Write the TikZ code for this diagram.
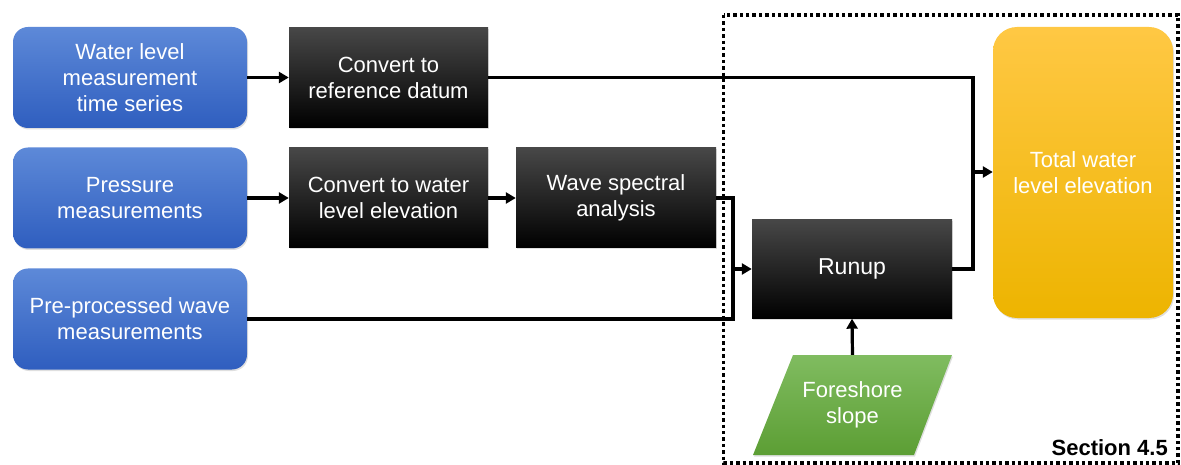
\documentclass[tikz,border=0pt]{standalone}
\usepackage{fontspec}
\setmainfont{Liberation Sans}
\usetikzlibrary{arrows.meta,shadows}
\definecolor{bluetop}{HTML}{5D89D8}
\definecolor{bluebot}{HTML}{2F5EBF}
\definecolor{yeltop}{HTML}{FFC844}
\definecolor{yelbot}{HTML}{EDB400}
\definecolor{grntop}{HTML}{80BC60}
\definecolor{grnbot}{HTML}{5C9E34}
\tikzset{
  boxtext/.style={text=white, align=center, font=\fontsize{22}{26}\selectfont},
  inbox/.style={boxtext, rounded corners=15pt, top color=bluetop, bottom color=bluebot,
    minimum width=234pt, minimum height=101pt, inner sep=0pt,
    drop shadow={opacity=0.25, shadow xshift=1pt, shadow yshift=-1.5pt}},
  procbox/.style={boxtext, top color=black!72, middle color=black, bottom color=black,
    minimum width=199pt, minimum height=100pt, inner sep=0pt,
    drop shadow={opacity=0.25, shadow xshift=1pt, shadow yshift=-1.5pt}},
  outbox/.style={boxtext, rounded corners=24pt, top color=yeltop, bottom color=yelbot,
    minimum width=180pt, minimum height=291pt, inner sep=0pt,
    drop shadow={opacity=0.25, shadow xshift=1pt, shadow yshift=-1.5pt}},
  conn/.style={line width=3.2pt, -{Triangle[length=10pt,width=11pt]}},
  plain/.style={line width=3.2pt},
  sectframe/.style={line width=3.4pt, dash pattern=on 3.4pt off 3pt},
}
\begin{document}
\begin{tikzpicture}[x=1pt,y=-1pt]
\useasboundingbox (0,0) rectangle (1181,465);
% section frame
\draw[sectframe] (723.5,15) rectangle (1178,463);
% inputs
\node[inbox] (b1) at (130,77.5) {Water level\\measurement\\time series};
\node[inbox] (b2) at (130,198) {Pressure\\measurements};
\node[inbox] (b3) at (130,319) {Pre-processed wave\\measurements};
% processes
\node[procbox] (k1) at (388.5,77.5) {Convert to\\reference datum};
\node[procbox] (k2) at (388.5,198) {Convert to water\\level elevation};
\node[procbox, minimum width=200pt] (k3) at (616,198) {Wave spectral\\analysis};
\node[procbox, minimum width=200pt, minimum height=99pt, font=\fontsize{23}{26}\selectfont] (ru) at (852,269) {Runup};
% output
\node[outbox] (ye) at (1083,172.5) {Total water\\level elevation};
% foreshore slope parallelogram
\shade[top color=grntop, bottom color=grnbot, drop shadow={opacity=0.25, shadow xshift=1pt, shadow yshift=-1.5pt}]
  (793,355) -- (952,355) -- (914,455) -- (753,455) -- cycle;
\node[boxtext, minimum width=120pt, minimum height=100pt, inner sep=0pt] (fs) at (852.5,405) {Foreshore\\slope};
% section label
\node[anchor=south east, inner sep=0pt, font=\fontsize{22}{24}\bfseries] (sec) at (1168,456) {Section 4.5};
% junctions
\coordinate (j) at (973,172);
\coordinate (m) at (733,269);
% connectors
\draw[conn] (b1) -- (k1);
\draw[conn] (b2) -- (k2);
\draw[conn] (k2) -- (k3);
\draw[plain] (k1.east) -| (j);
\draw[plain] (ru.east) -| (j);
\draw[conn] (j) -- (ye.west |- j);
\draw[plain] (k3.east) -| (m);
\draw[plain] (b3.east) -| (m);
\draw[conn] (m) -- (ru.west);
\draw[conn] (fs.north) -- (ru.south);
\end{tikzpicture}
\end{document}
